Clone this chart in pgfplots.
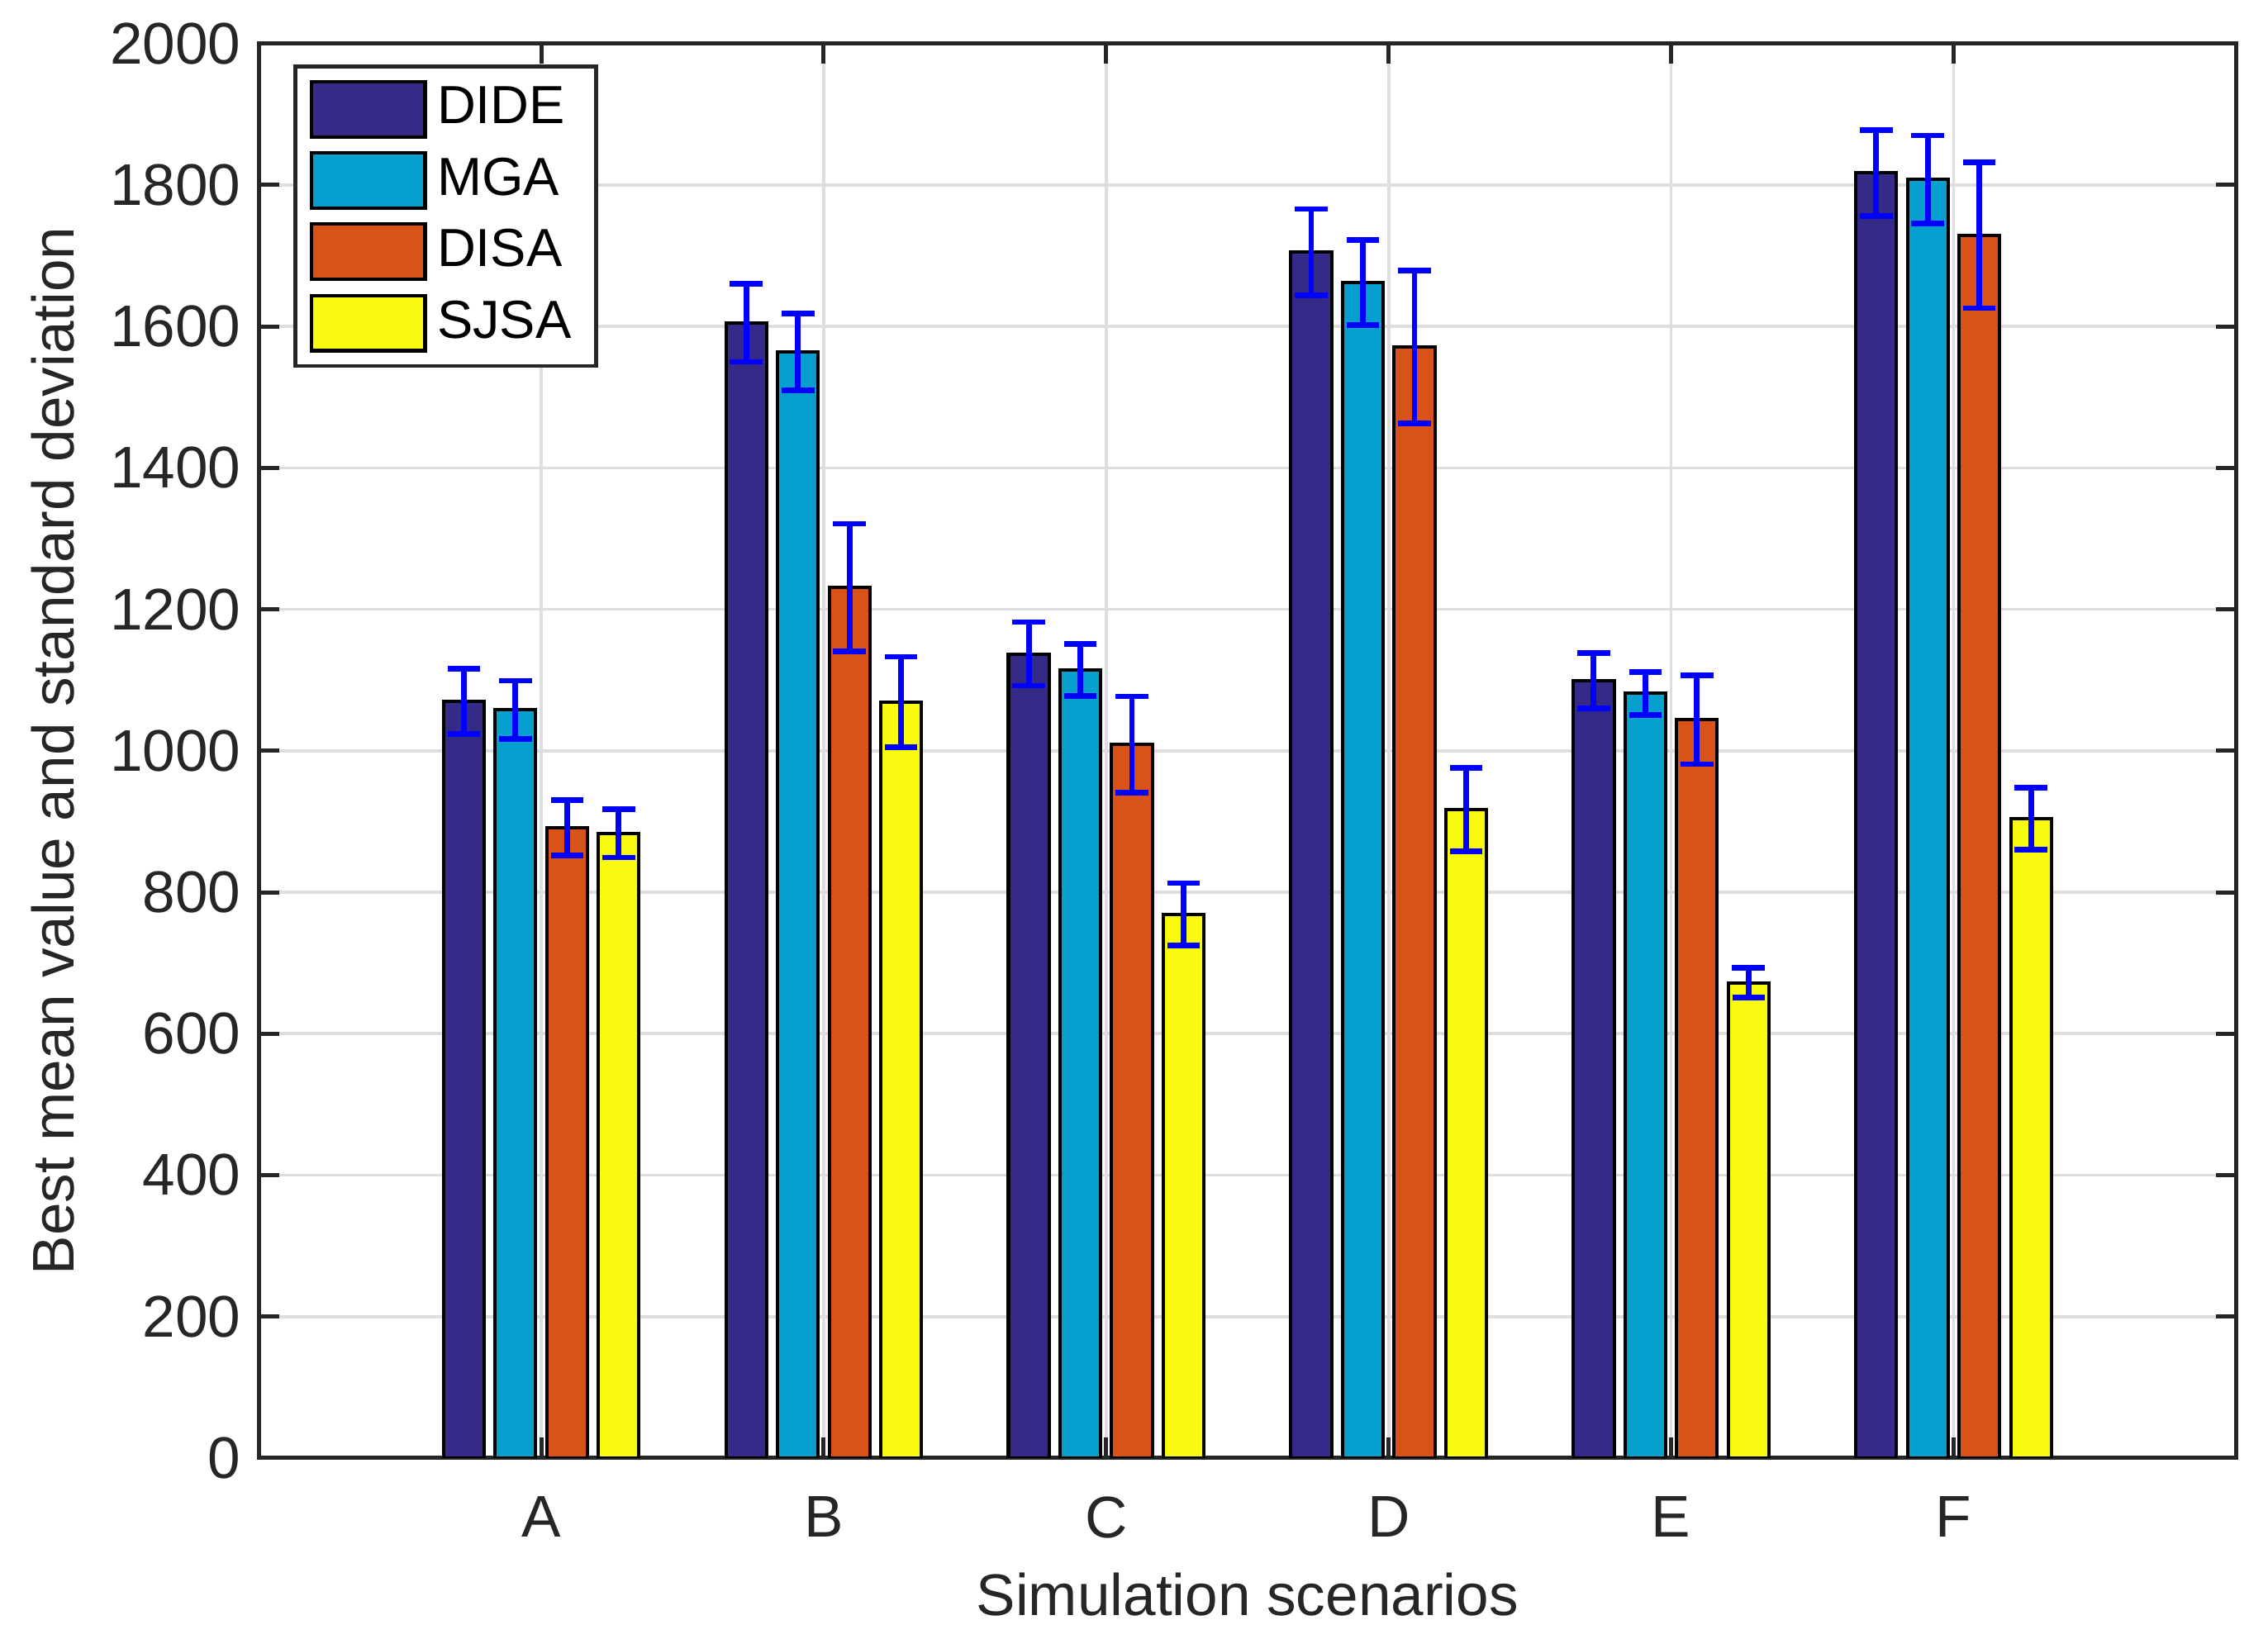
\documentclass[border=0pt]{standalone}
\usepackage{pgfplots}
\pgfplotsset{compat=1.18}
\usepackage{fontspec}
\setmainfont{Liberation Sans}

\definecolor{dide}{RGB}{53,42,135}
\definecolor{mga}{RGB}{6,159,208}
\definecolor{disa}{RGB}{217,83,25}
\definecolor{sjsa}{RGB}{248,250,15}
\definecolor{axgray}{RGB}{38,38,38}
\definecolor{gridgray}{RGB}{222,222,222}

\begin{document}
\begin{tikzpicture}
\begin{axis}[
  name=ax,
  scale only axis,
  width=13.6cm, height=9.73cm,
  ybar=0.075cm, bar width=0.28cm,
  xmin=0, xmax=7, ymin=0, ymax=2000,
  xtick={1,2,3,4,5,6},
  xticklabels={A,B,C,D,E,F},
  ytick={0,200,...,2000},
  grid=major,
  grid style={line width=0.6pt, draw=gridgray},
  axis line style={axgray, line width=0.8pt},
  tick style={axgray, line width=0.8pt},
  major tick length=0.14cm,
  tick align=inside,
  /pgf/number format/assume math mode=true,
  /pgf/number format/1000 sep={},
  ticklabel style={font=\fontsize{11.5}{13}\selectfont, text=axgray},
  xticklabel style={yshift=-0.14cm},
  label style={font=\fontsize{11.5}{13}\selectfont, text=axgray},
  xlabel={Simulation scenarios},
  ylabel={Best mean value and standard deviation},
  legend style={at={(0.0176,0.985)}, anchor=north west, draw=axgray,
    line width=0.7pt, font=\fontsize{10.5}{12}\selectfont,
    row sep=0.04cm, inner xsep=0.1cm, inner ysep=0.07cm},
  legend cell align=left,
  legend image code/.code={\draw[#1, line width=0.7pt] (0cm,-0.19cm) rectangle (0.78cm,0.19cm);},
  every axis plot/.append style={draw=black, line width=0.65pt},
  error bars/error bar style={blue, line width=1.1pt},
  error bars/error mark options={blue, line width=1.1pt, mark size=3.2pt, rotate=90},
]

% DIDE
\addplot[fill=dide, error bars/.cd, y dir=both, y explicit] coordinates {
  (1,1070) +- (0,46)
  (2,1605) +- (0,55)
  (3,1137) +- (0,45)
  (4,1705) +- (0,61)
  (5,1099) +- (0,39)
  (6,1817) +- (0,61)
};
\addlegendentry{DIDE}

% MGA
\addplot[fill=mga, error bars/.cd, y dir=both, y explicit] coordinates {
  (1,1058) +- (0,41)
  (2,1564) +- (0,54)
  (3,1114) +- (0,37)
  (4,1662) +- (0,60)
  (5,1081) +- (0,30)
  (6,1808) +- (0,62)
};
\addlegendentry{MGA}

% DISA
\addplot[fill=disa, error bars/.cd, y dir=both, y explicit] coordinates {
  (1,891) +- (0,39)
  (2,1231) +- (0,90)
  (3,1009) +- (0,68)
  (4,1571) +- (0,108)
  (5,1044) +- (0,63)
  (6,1729) +- (0,103)
};
\addlegendentry{DISA}

% SJSA
\addplot[fill=sjsa, error bars/.cd, y dir=both, y explicit] coordinates {
  (1,883) +- (0,34)
  (2,1069) +- (0,64)
  (3,769) +- (0,44)
  (4,917) +- (0,59)
  (5,672) +- (0,21)
  (6,904) +- (0,44)
};
\addlegendentry{SJSA}

\end{axis}
% page size as in the reference: margins round the axis box
\pgfresetboundingbox
\path[use as bounding box] ([shift={(-1.78cm,-1.24cm)}]ax.south west) rectangle ([shift={(0.22cm,0.30cm)}]ax.north east);
\end{tikzpicture}
\end{document}
